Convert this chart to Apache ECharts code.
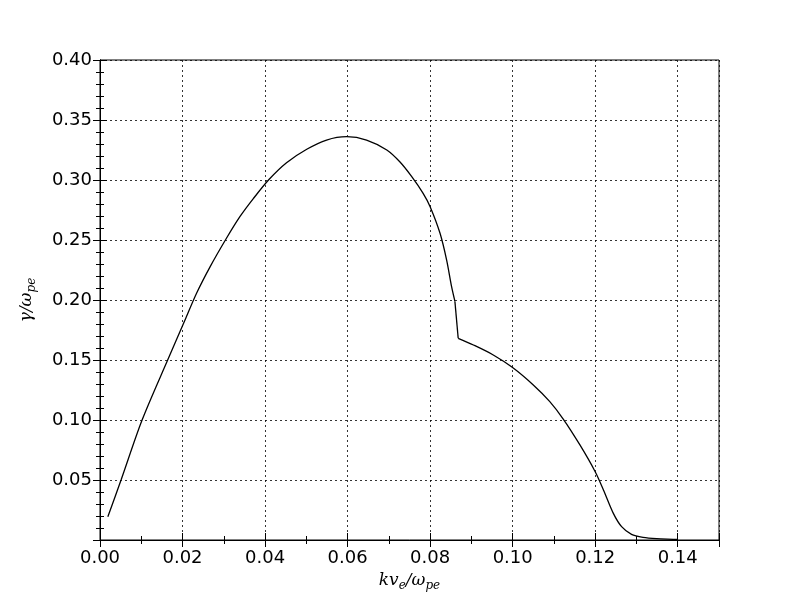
<!DOCTYPE html>
<html>
<head>
<meta charset="utf-8">
<script src="https://cdn.jsdelivr.net/npm/echarts@6/dist/echarts.min.js"></script>
<style>html,body{margin:0;padding:0;background:#fff}#c{width:800px;height:600px}</style>
</head>
<body>
<div id="c"></div>
<script>
const kv = [0.0019,0.0051,0.0102,0.0164,0.0206,0.0234,0.0267,0.0305,0.0339,0.0372,0.0410,0.0452,0.0501,0.0549,0.0598,0.0646,0.0695,0.0727,0.0755,0.0783,0.0800,0.0824,0.0840,0.0852,0.0860,0.0868,0.0905,0.0953,0.0999,0.1050,0.1090,0.1123,0.1163,0.1200,0.1220,0.1244,0.1264,0.1288,0.1316,0.1349,0.1389,0.1400];
const gamma = [0.0194,0.050,0.100,0.150,0.1833,0.2056,0.2278,0.2506,0.2694,0.2847,0.3006,0.3144,0.3256,0.3333,0.3361,0.3333,0.3250,0.3150,0.3030,0.2889,0.2778,0.2556,0.2333,0.2111,0.1990,0.1681,0.1625,0.1542,0.1439,0.1292,0.1153,0.1006,0.0792,0.0569,0.0417,0.0222,0.0111,0.0047,0.0022,0.0011,0.0006,0.0004];
const jumpStart = 24; // index of the last point before the discontinuity
const xTicks = [0, 0.02, 0.04, 0.06, 0.08, 0.10, 0.12, 0.14];
const yTicks = [0.05, 0.10, 0.15, 0.20, 0.25, 0.30, 0.35, 0.40];

const data = kv.map((x, i) => [x, gamma[i]]);
const partA = data.slice(0, jumpStart + 1);
const partB = data.slice(jumpStart, jumpStart + 2);
const partC = data.slice(jumpStart + 1);
const chart = echarts.init(document.getElementById('c'), null, {renderer: 'canvas'});
const tickFont = {fontFamily: 'DejaVu Sans', fontSize: 18, color: '#000'};
const grid = {type: [2, 3], color: '#000', width: 0.8};
const rich = {
  a: {fontFamily: 'DejaVu Serif', fontStyle: 'italic', fontSize: 17, color: '#000'},
  s: {fontFamily: 'DejaVu Serif', fontStyle: 'italic', fontSize: 12, color: '#000', padding: [10, 0, 0, 0]}
};
const lineBase = {type: 'line', xAxisIndex: 0, yAxisIndex: 0, showSymbol: false, symbol: 'none',
  lineStyle: {color: '#000', width: 1.3}, silent: true};
chart.setOption({
  animation: false,
  backgroundColor: '#fff',
  grid: {left: 100, right: 81, top: 60, bottom: 60, show: true, borderColor: '#000', borderWidth: 1},
  xAxis: [{
    type: 'value', min: 0, max: 0.15, interval: 0.02, position: 'bottom',
    axisLine: {show: true, lineStyle: {color: '#000', width: 1}},
    axisTick: {show: true, inside: true, length: 7, lineStyle: {color: '#000'}},
    minorTick: {show: true, splitNumber: 2, length: 4, lineStyle: {color: '#000'}},
    splitLine: {show: true, lineStyle: grid},
    axisLabel: Object.assign({margin: 9, showMaxLabel: false, formatter: v => xTicks.some(t => Math.abs(t - v) < 1e-9) ? v.toFixed(2) : ''}, tickFont),
    name: '{a|kv}{s|e}{a|/ω}{s|pe}', nameLocation: 'middle', nameGap: 30,
    nameTextStyle: {rich: rich}
  }, {
    type: 'value', min: 0, max: 0.15, interval: 0.02, position: 'top',
    axisLine: {show: true, lineStyle: {color: '#000'}},
    axisTick: {show: true, inside: true, length: 7, lineStyle: {color: '#000'}},
    minorTick: {show: true, splitNumber: 2, length: 4, lineStyle: {color: '#000'}},
    splitLine: {show: false}, axisLabel: {show: false}
  }],
  yAxis: [{
    type: 'value', min: 0, max: 0.4, interval: 0.05, position: 'left',
    axisLine: {show: true, lineStyle: {color: '#000'}},
    axisTick: {show: true, inside: true, length: 7, lineStyle: {color: '#000'}},
    minorTick: {show: true, splitNumber: 5, length: 4, lineStyle: {color: '#000'}},
    splitLine: {show: true, lineStyle: grid},
    axisLabel: Object.assign({margin: 8, showMinLabel: false, formatter: v => yTicks.some(t => Math.abs(t - v) < 1e-9) ? v.toFixed(2) : ''}, tickFont),
    name: '{a|γ/ω}{s|pe}', nameLocation: 'middle', nameGap: 62, nameRotate: 90,
    nameTextStyle: {rich: rich}
  }, {
    type: 'value', min: 0, max: 0.4, interval: 0.05, position: 'right',
    axisLine: {show: true, lineStyle: {color: '#000'}},
    axisTick: {show: true, inside: true, length: 7, lineStyle: {color: '#000'}},
    minorTick: {show: true, splitNumber: 5, length: 4, lineStyle: {color: '#000'}},
    splitLine: {show: false}, axisLabel: {show: false}
  }],
  series: [
    Object.assign({data: partA, smooth: 0.3}, lineBase),
    Object.assign({data: partB, smooth: false}, lineBase),
    Object.assign({data: partC, smooth: 0.3}, lineBase)
  ]
});
</script>
</body>
</html>
